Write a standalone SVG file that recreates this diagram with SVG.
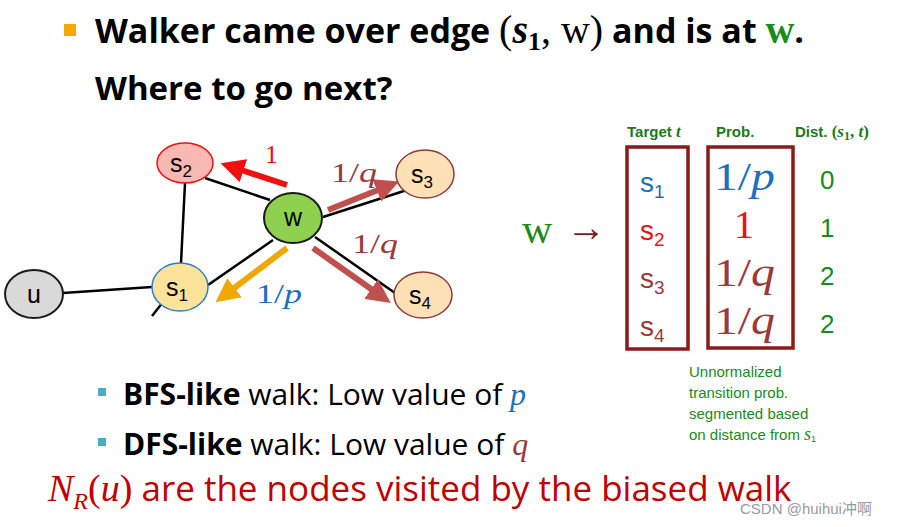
<svg xmlns="http://www.w3.org/2000/svg" width="903" height="527" viewBox="0 0 903 527">
<defs>
<style>
.sans{font-family:"Open Sans","Liberation Sans",sans-serif}
.lab{font-family:"Liberation Sans",Arial,sans-serif;font-weight:300}
.serif{font-family:"Liberation Serif","DejaVu Serif",serif}
.edge{stroke:#000;stroke-width:2.5;fill:none}
.hd{font-family:"Liberation Sans",Arial,sans-serif;font-weight:bold;font-size:15px;fill:#1a7a1a}
.note{font-family:"Liberation Sans",Arial,sans-serif;font-size:15px;fill:#1a8a1a}
</style>
<marker id="ahRed" markerWidth="4" markerHeight="4" refX="2" refY="2" orient="auto" markerUnits="strokeWidth"><path d="M0,0 L4,2 L0,4 z" fill="#ee1111"/></marker>
<marker id="ahBrown" markerWidth="4" markerHeight="4" refX="2" refY="2" orient="auto" markerUnits="strokeWidth"><path d="M0,0 L4,2 L0,4 z" fill="#c0504d"/></marker>
<marker id="ahOrange" markerWidth="4" markerHeight="4" refX="2" refY="2" orient="auto" markerUnits="strokeWidth"><path d="M0,0 L4,2 L0,4 z" fill="#f0a800"/></marker>
</defs>
<rect width="903" height="527" fill="#fff"/>

<!-- title -->
<rect x="64" y="24" width="12" height="12" fill="#f5a800"/>
<text x="95" y="43" font-size="34" font-weight="bold" class="sans" fill="#000">Walker came over edge <tspan class="serif" font-weight="normal" font-size="40">(</tspan><tspan class="serif" font-style="italic" font-weight="bold" font-size="40">s</tspan><tspan class="serif" font-size="26" dy="7" font-weight="bold">1</tspan><tspan class="serif" font-weight="normal" font-size="40" dy="-7">, w)</tspan> and is at <tspan class="serif" fill="#1a8a1a" font-weight="bold" font-size="40">w</tspan>.</text>
<text x="95" y="100" font-size="33" font-weight="bold" class="sans" fill="#000">Where to go next?</text>

<!-- connectors -->
<g id="connectors">
<line class="edge" x1="205" y1="178" x2="270" y2="200"/>
<line class="edge" x1="185" y1="183" x2="181" y2="263"/>
<line class="edge" x1="323" y1="217" x2="407" y2="190"/>
<line class="edge" x1="315" y1="237" x2="395" y2="293"/>
<line class="edge" x1="273" y1="240" x2="208" y2="285"/>
<line class="edge" x1="63" y1="293" x2="152" y2="287"/>
<line class="edge" x1="163" y1="302" x2="152" y2="316"/>
<line x1="287" y1="185" x2="232" y2="167" stroke="#ee1111" stroke-width="6" marker-end="url(#ahRed)"/>
<line x1="328" y1="210" x2="388" y2="186" stroke="#c0504d" stroke-width="6" marker-end="url(#ahBrown)"/>
<line x1="313" y1="248" x2="381" y2="296" stroke="#c0504d" stroke-width="6" marker-end="url(#ahBrown)"/>
<line x1="287" y1="248" x2="225" y2="295" stroke="#f0a800" stroke-width="6" marker-end="url(#ahOrange)"/>
<text x="265" y="163" font-size="26" class="serif" fill="#ee1111">1</text>
<text x="331" y="182" font-size="28" class="serif" fill="#9b3a3a" textLength="46" lengthAdjust="spacingAndGlyphs">1/<tspan font-style="italic">q</tspan></text>
<text x="352" y="253" font-size="28" class="serif" fill="#9b3a3a" textLength="46" lengthAdjust="spacingAndGlyphs">1/<tspan font-style="italic">q</tspan></text>
<text x="256" y="303" font-size="28" class="serif" fill="#1f6fbf" textLength="46" lengthAdjust="spacingAndGlyphs">1/<tspan font-style="italic">p</tspan></text>
</g>

<!-- nodes -->
<g id="node-s2">
<ellipse cx="185" cy="163" rx="28" ry="20" fill="#f8b9b2" stroke="#ee1111" stroke-width="1.5"/>
<text x="170" y="172" font-size="25" class="lab" fill="#000">s<tspan font-size="17" dy="5">2</tspan></text>
</g>
<g id="node-w">
<ellipse cx="293" cy="218" rx="29" ry="25" fill="#8ed14f" stroke="#1a1a1a" stroke-width="2"/>
<text x="293" y="226" font-size="25" class="lab" fill="#000" text-anchor="middle">w</text>
</g>
<g id="node-s3">
<ellipse cx="425" cy="174" rx="29" ry="24" fill="#fde0b5" stroke="#8b3a3a" stroke-width="1.5"/>
<text x="411" y="183" font-size="25" class="lab" fill="#000">s<tspan font-size="17" dy="5">3</tspan></text>
</g>
<g id="node-s4">
<ellipse cx="423" cy="295" rx="29" ry="23" fill="#fde0b5" stroke="#8b3a3a" stroke-width="1.5"/>
<text x="409" y="304" font-size="25" class="lab" fill="#000">s<tspan font-size="17" dy="5">4</tspan></text>
</g>
<g id="node-s1">
<ellipse cx="180" cy="287" rx="28" ry="24" fill="#fde29a" stroke="#2f7fc8" stroke-width="1.5"/>
<text x="166" y="296" font-size="25" class="lab" fill="#000">s<tspan font-size="17" dy="5">1</tspan></text>
</g>
<g id="node-u">
<ellipse cx="34" cy="294" rx="29" ry="24" fill="#d9d9d9" stroke="#1a1a1a" stroke-width="2"/>
<text x="34" y="303" font-size="25" class="lab" fill="#000" text-anchor="middle">u</text>
</g>

<!-- w arrow -->
<text x="522" y="243" font-size="42" class="serif" fill="#1a8a1a">w</text>
<text x="566" y="241" font-size="40" class="serif" fill="#7a1a1a">→</text>

<!-- table -->
<text x="627" y="137" class="hd">Target <tspan class="serif" font-style="italic" font-size="17">t</tspan></text>
<text x="716" y="137" class="hd">Prob.</text>
<text x="795" y="137" class="hd">Dist. <tspan class="serif" font-size="17">(<tspan font-style="italic">s</tspan><tspan font-size="12" dy="3">1</tspan><tspan dy="-3">, </tspan><tspan font-style="italic">t</tspan>)</tspan></text>
<rect x="627" y="147" width="61" height="202" fill="none" stroke="#8b1a1a" stroke-width="3.5"/>
<rect x="708" y="147" width="85" height="201" fill="none" stroke="#8b1a1a" stroke-width="3.5"/>
<g class="lab" font-size="28">
<text x="640" y="192" fill="#1f6fbf">s<tspan font-size="19" dy="6">1</tspan></text>
<text x="640" y="240" fill="#ee1111">s<tspan font-size="19" dy="6">2</tspan></text>
<text x="640" y="288" fill="#9b3a3a">s<tspan font-size="19" dy="6">3</tspan></text>
<text x="640" y="336" fill="#9b3a3a">s<tspan font-size="19" dy="6">4</tspan></text>
</g>
<g class="serif" font-size="40">
<text x="714" y="190" fill="#1f6fbf" textLength="61" lengthAdjust="spacingAndGlyphs">1/<tspan font-style="italic">p</tspan></text>
<text x="734" y="238" fill="#ee1111">1</text>
<text x="714" y="286" fill="#9b3a3a" textLength="61" lengthAdjust="spacingAndGlyphs">1/<tspan font-style="italic">q</tspan></text>
<text x="714" y="334" fill="#9b3a3a" textLength="61" lengthAdjust="spacingAndGlyphs">1/<tspan font-style="italic">q</tspan></text>
</g>
<g class="lab" font-size="26" fill="#1a8a1a">
<text x="820" y="189">0</text>
<text x="820" y="237">1</text>
<text x="820" y="285">2</text>
<text x="820" y="333">2</text>
</g>
<text x="689" y="377" class="note">Unnormalized</text>
<text x="689" y="398" class="note">transition prob.</text>
<text x="689" y="419" class="note">segmented based</text>
<text x="689" y="440" class="note">on distance from <tspan class="serif" font-style="italic" font-size="18">s</tspan><tspan font-size="9" dy="2">1</tspan></text>

<!-- bullets -->
<rect x="98" y="388" width="8" height="8" fill="#4bacc6"/>
<text x="123" y="405" font-size="30" class="sans" fill="#000"><tspan font-weight="bold">BFS-like</tspan> walk: Low value of <tspan class="serif" font-style="italic" fill="#1f6fbf" font-size="32">p</tspan></text>
<rect x="98" y="438" width="8" height="8" fill="#4bacc6"/>
<text x="123" y="455" font-size="30" class="sans" fill="#000"><tspan font-weight="bold">DFS-like</tspan> walk: Low value of <tspan class="serif" font-style="italic" fill="#9b3a3a" font-size="32">q</tspan></text>
<text x="48" y="501" font-size="35" class="sans" fill="#c00000"><tspan class="serif" font-style="italic" font-size="38">N</tspan><tspan class="serif" font-style="italic" font-size="24" dy="8">R</tspan><tspan class="serif" dy="-8" font-size="38">(</tspan><tspan class="serif" font-style="italic" font-size="38">u</tspan><tspan class="serif" font-size="38">)</tspan> are the nodes visited by the biased walk</text>

<text x="740" y="514" font-size="15" font-family="'Liberation Sans','Noto Sans CJK SC',sans-serif" fill="#9a9a9a">CSDN @huihui冲啊</text>
</svg>
